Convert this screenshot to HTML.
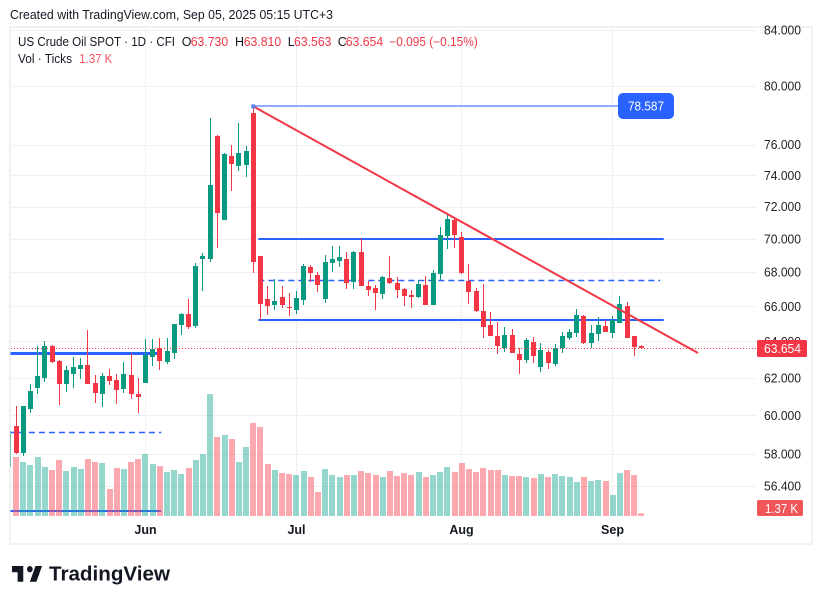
<!DOCTYPE html>
<html lang="en">
<head>
<meta charset="utf-8">
<title>US Crude Oil SPOT chart</title>
<style>
html,body{margin:0;padding:0;background:#fff;width:822px;height:604px;overflow:hidden}
svg{display:block;font-family:"Liberation Sans",sans-serif}
</style>
</head>
<body>
<svg id="chart" xmlns="http://www.w3.org/2000/svg" width="822" height="604" viewBox="0 0 822 604">
  <defs><clipPath id="pane-clip"><rect x="10.5" y="27" width="746" height="490"/></clipPath></defs>
  <rect width="822" height="604" fill="#fff"/>
  <text x="10" y="19" font-size="13" fill="#131722" textLength="323" lengthAdjust="spacingAndGlyphs">Created with TradingView.com, Sep 05, 2025 05:15 UTC+3</text>
  <rect x="10" y="27" width="802" height="517" fill="none" stroke="#f1f1f1" stroke-width="2"/>
  <g id="grid-layer"></g>
  <g clip-path="url(#pane-clip)">
    <g id="drawing-under-layer"></g>
    <g id="volume-layer"></g>
    <g id="candle-layer"></g>
    <g id="drawing-over-layer"></g>
  </g>
  <g id="price-axis-layer"></g>
  <g id="time-axis-layer"></g>

  <g font-size="12.5" fill="#131722">
    <text x="18" y="46" textLength="157" lengthAdjust="spacingAndGlyphs">US Crude Oil SPOT · 1D · CFI</text>
    <text x="181.7" y="46">O</text>
    <text x="190.7" y="46" fill="#F23645" textLength="37.5" lengthAdjust="spacingAndGlyphs">63.730</text>
    <text x="235" y="46">H</text>
    <text x="243.7" y="46" fill="#F23645" textLength="37.5" lengthAdjust="spacingAndGlyphs">63.810</text>
    <text x="287.7" y="46">L</text>
    <text x="294" y="46" fill="#F23645" textLength="37.5" lengthAdjust="spacingAndGlyphs">63.563</text>
    <text x="337.7" y="46">C</text>
    <text x="345.7" y="46" fill="#F23645" textLength="37.5" lengthAdjust="spacingAndGlyphs">63.654</text>
    <text x="389.3" y="46" fill="#F23645" textLength="88.5" lengthAdjust="spacingAndGlyphs">−0.095 (−0.15%)</text>
    <text x="18" y="63" textLength="54" lengthAdjust="spacingAndGlyphs">Vol · Ticks</text>
    <text x="79.3" y="63" fill="#F7525F" textLength="33" lengthAdjust="spacingAndGlyphs">1.37 K</text>
  </g>

  <g>
    <rect x="618" y="93" width="56" height="26" rx="5" fill="#2962FF"/>
    <text x="646" y="110.5" font-size="12.5" fill="#fff" text-anchor="middle" textLength="36" lengthAdjust="spacingAndGlyphs">78.587</text>
  </g>
  <g>
    <rect x="757" y="340" width="50" height="17" rx="1.5" fill="#F23645"/>
    <text x="764" y="353" font-size="13" fill="#fff" textLength="37" lengthAdjust="spacingAndGlyphs">63.654</text>
  </g>
  <g>
    <rect x="757" y="500" width="46" height="16" rx="1.5" fill="#F0555A"/>
    <text x="765" y="513" font-size="13" fill="#fff" textLength="33" lengthAdjust="spacingAndGlyphs">1.37 K</text>
  </g>

  <g>
    <path transform="translate(10.1 559.7) scale(.94 1.05)" fill="#131722" d="M14 6H2v6h6v9h6V6zm14 15h-7l6-15h7l-6 15zm-7-9a3 3 0 1 0 0-6 3 3 0 0 0 0 6z"/>
    <text x="49" y="580.5" font-size="20" font-weight="700" fill="#131722" textLength="121" lengthAdjust="spacingAndGlyphs">TradingView</text>
  </g>
</svg>
<script>
const opens = [57.36,
59.45,58.08,60.33,61.45,61.99,63.74,62.92,61.67,62.21,62.48,
62.70,61.72,61.13,62.10,61.88,61.40,62.15,61.13,61.72,63.14,
63.63,62.86,63.36,64.93,65.55,64.87,68.78,68.78,76.58,71.16,
75.25,74.60,74.66,78.13,68.96,66.42,66.07,66.53,65.95,65.78,
66.36,68.30,67.82,66.42,68.54,68.66,68.78,67.41,69.20,67.18,
67.06,66.71,67.65,67.35,67.00,66.65,66.53,67.24,66.07,67.88,
70.17,71.16,70.11,67.47,66.88,65.72,64.93,64.30,63.63,64.36,
63.30,62.97,63.97,62.59,63.41,62.75,63.63,64.19,64.47,65.44,
63.91,64.42,64.87,64.47,65.04,66.01,64.30,63.73];
const highs = [59.19,
60.49,60.49,61.67,63.74,64.02,63.80,62.97,62.65,63.14,63.08,
64.64,62.15,62.26,62.48,62.21,62.86,63.36,61.99,64.13,64.13,
64.19,64.19,64.98,65.61,66.42,68.54,69.14,77.79,76.64,75.45,
75.98,77.45,75.91,78.69,68.96,67.18,67.59,67.18,66.77,66.88,
68.48,68.42,68.00,69.02,69.56,69.56,69.20,69.26,70.05,67.47,
67.24,67.76,68.96,67.71,67.06,66.94,67.53,67.76,68.12,70.73,
71.48,71.29,70.42,68.48,67.06,67.30,65.66,65.10,64.81,64.70,
63.63,64.19,64.25,63.91,63.52,63.86,64.53,64.70,65.84,65.49,
64.93,65.38,65.21,65.44,66.59,66.24,64.30,63.81];
const lows = [57.36,
58.01,57.92,60.10,61.13,61.77,62.81,60.55,61.24,61.45,61.94,
61.67,60.65,60.44,61.61,60.60,61.18,60.86,60.12,61.72,62.65,
62.43,62.75,63.03,64.36,64.70,64.76,66.88,68.60,69.44,71.16,
72.99,74.27,73.88,67.94,65.21,65.49,65.78,65.89,65.44,65.55,
66.07,67.41,66.82,66.18,68.00,68.30,67.00,67.00,67.18,66.59,
65.78,66.42,67.30,66.48,66.01,65.89,66.48,66.07,66.07,67.53,
69.38,69.44,67.88,66.13,65.66,64.19,64.30,63.30,63.41,63.36,
62.21,62.81,62.81,62.32,62.48,62.65,63.36,64.08,64.25,63.86,
63.63,64.02,64.53,64.19,65.04,64.19,63.19,63.56];
const closes = [59.19,
58.07,60.49,61.29,62.10,63.74,62.86,61.67,62.43,62.59,62.70,
61.67,61.18,62.10,61.83,61.34,62.21,61.13,60.97,63.25,63.58,
62.92,63.47,64.98,65.55,64.81,68.36,68.96,73.37,71.60,75.39,
74.73,75.45,75.58,68.60,66.13,66.01,66.30,66.07,65.89,66.48,
68.36,67.94,67.24,68.60,68.78,68.90,67.35,69.20,67.18,66.94,
66.77,67.71,67.35,66.94,66.59,66.53,67.30,66.07,67.94,70.23,
71.22,70.23,67.94,66.82,65.72,64.81,64.30,63.74,64.36,63.36,
62.97,64.08,63.19,63.52,62.81,63.63,64.30,64.53,65.49,63.91,
64.47,64.93,64.53,65.21,66.13,64.19,63.69,63.65];
const volumes = [0,
29.5,27,25.5,29.5,24.5,23,28,22.5,24.5,23.5,
28.5,27,26.5,13.5,24,23.5,27,28.5,31,26,
25,22,23,21,24,28,31,61,39.5,40.5,
38.5,27,34.5,46.5,44.5,26,23,21.5,21,20.5,
22.5,19.5,12,23.5,20.5,19.5,20.5,20.5,22.5,21.5,
20.5,19.5,22.5,20,21.5,20.5,22,19.5,20.5,22,
24.5,22,26.5,23.5,22,24,23,23,20.5,20,
20,19.5,19,21,19.5,21,20,19.5,17,19.5,
17.5,18,17.5,10.5,21.5,23,20.5,1.37];
const priceTicks = [84,80,76,74,72,70,68,66,64,62,60,58,56.4];
const tickLabels = ["84.000","80.000","76.000","74.000","72.000","70.000","68.000","66.000","64.000","62.000","60.000","58.000","56.400"];
const monthLabels = ["Jun","Jul","Aug","Sep"];
const monthBars = [19,40,63,84];
const lastPrice = 63.654;
const maxPrice = 78.587;
const levelPrices = [70,65.21,67.52,63.36,59.15,55.19];
const levelStarts = [34.7,34.7,34.7,0,0,0];
const levelEnds = [91.1,91.1,90.6,20.6,21.2,21.2];
const levelKinds = ["solid","solid","dash","thick","dash","solid"];
const trendBars = [34,95.87];
const trendPrices = [78.587,63.36];

const svgNS = 'http://www.w3.org/2000/svg';
const xScale = k => 16.1 + 7.188 * (k - 1);
const snapX = k => Math.floor(xScale(k)) + 0.5;
const yScale = p => 86 + 1145 * Math.log(80 / p);
const volY = v => 516 - v * 2;
const UP = '#089981', DOWN = '#F23645', UPV = 'rgba(34,171,148,.48)', DOWNV = 'rgba(247,82,95,.5)';

function make(tag, attrs, parent) {
  const el = document.createElementNS(svgNS, tag);
  for (const key in attrs) el.setAttribute(key, attrs[key]);
  parent.appendChild(el);
  return el;
}
const gridLayer = document.getElementById('grid-layer');
const underLayer = document.getElementById('drawing-under-layer');
const volumeLayer = document.getElementById('volume-layer');
const candleLayer = document.getElementById('candle-layer');
const overLayer = document.getElementById('drawing-over-layer');
const priceAxis = document.getElementById('price-axis-layer');
const timeAxis = document.getElementById('time-axis-layer');

priceTicks.forEach((p, n) => {
  const y = Math.round(yScale(p)) + 0.5;
  const line = make('line', {x1: 11, x2: 756, y1: y, y2: y, stroke: '#f0f0f0', 'stroke-width': 1}, gridLayer);
  
  
  const label = make('text', {x: 764, y: yScale(p) + 4.5, 'font-size': 13, fill: '#222', textLength: 37, lengthAdjust: 'spacingAndGlyphs'}, priceAxis);
  
  
  label.textContent = tickLabels[n];
});

monthLabels.forEach((m, n) => {
  const x = snapX(monthBars[n]);
  const line = make('line', {x1: x, x2: x, y1: 28, y2: 516, stroke: '#f0f0f0', 'stroke-width': 1}, gridLayer);
  
  
  const label = make('text', {x: x, y: 534, 'font-size': 12.5, 'font-weight': 700, fill: '#131722', 'text-anchor': 'middle'}, timeAxis);
  
  
  label.textContent = m;
});

levelPrices.forEach((p, n) => {
  const kind = levelKinds[n];
  const y = kind === 'solid' ? Math.round(yScale(p)) : Math.round(yScale(p)) + 0.5;
  const attrs = {x1: xScale(levelStarts[n]), x2: xScale(levelEnds[n]), y1: y, y2: y, stroke: '#2962FF',
    'stroke-width': kind === 'thick' ? 3 : kind === 'dash' ? 1.5 : 2};
  if (kind === 'dash') attrs['stroke-dasharray'] = '6 4';
  const line = make('line', attrs, underLayer);
  
  
});

volumes.forEach((v, k) => {
  if (!v) return;
  const up = closes[k] >= opens[k];
  const bar = make('rect', {x: Math.round(xScale(k)) - 3, y: volY(v), width: 6, height: 516 - volY(v), fill: up ? UPV : DOWNV}, volumeLayer);
  
  
});

opens.forEach((o, k) => {
  const c = closes[k];
  const up = c >= o;
  const color = up ? UP : DOWN;
  const cx = snapX(k);
  const wickTop = Math.round(yScale(highs[k]));
  const wick = make('rect', {x: cx - 0.5, y: wickTop, width: 1, height: Math.round(yScale(lows[k])) - wickTop, fill: color}, candleLayer);
  
  
  const top = Math.round(yScale(Math.max(o, c)));
  const h = Math.max(1, Math.round(yScale(Math.min(o, c))) - top);
  const body = make('rect', {x: cx - 2.5, y: top, width: 5, height: h, fill: color}, candleLayer);
  
  
});

const lastY = Math.round(yScale(lastPrice)) + 0.5;
const lastLine = make('line', {x1: 11, x2: 756, y1: lastY, y2: lastY, stroke: '#F23645', 'stroke-width': 1, 'stroke-dasharray': '1 2'}, overLayer);



const maxLine = make('line', {x1: xScale(trendBars[0]), x2: 618, y1: Math.round(yScale(maxPrice)), y2: Math.round(yScale(maxPrice)), stroke: '#8FAAFF', 'stroke-width': 2}, overLayer);



const trend = make('line', {x1: xScale(trendBars[0]), y1: yScale(trendPrices[0]), x2: xScale(trendBars[1]), y2: yScale(trendPrices[1]), stroke: '#F23645', 'stroke-width': 2}, overLayer);



const handle = make('rect', {x: xScale(trendBars[0]) - 2, y: yScale(maxPrice) - 2, width: 4, height: 4, fill: '#5C7FF0'}, overLayer);


</script>
</body>
</html>
